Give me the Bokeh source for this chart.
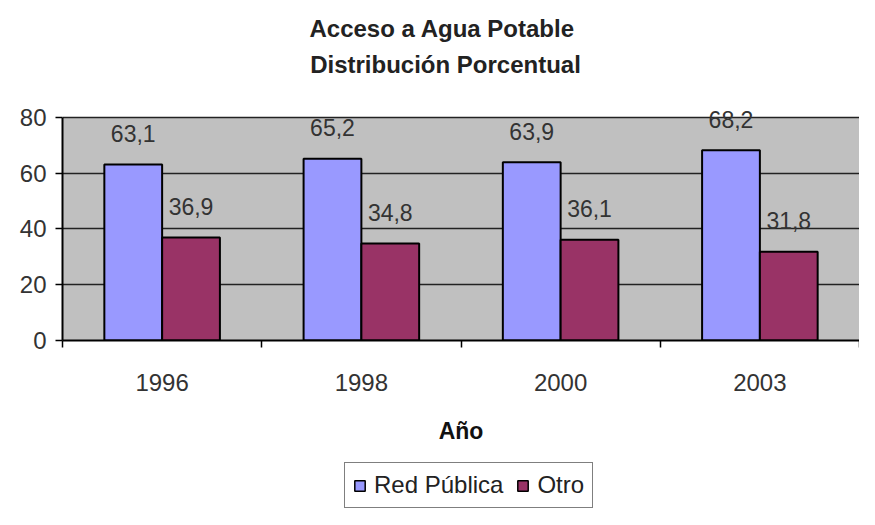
import numpy as np
from bokeh.plotting import figure
from bokeh.layouts import column
from bokeh.models import (Range1d, FixedTicker, Legend, LegendItem, Label,
                          BoxAnnotation, ColumnDataSource)
from bokeh.core.properties import value
from bokeh.embed import file_html
from bokeh.resources import INLINE

years = ["1996", "1998", "2000", "2003"]
red_publica = [63.1, 65.2, 63.9, 68.2]
otro = [36.9, 34.8, 36.1, 31.8]
y_ticks = [0, 20, 40, 60, 80]
series_names = ["Red Pública", "Otro"]
title_lines = ["Acceso  a Agua Potable", "Distribución Porcentual"]
x_title = "Año"

FONT = "Liberation Sans"
BLUE = "#9999FF"
MAROON = "#993366"
GRAY = "#C0C0C0"

pos = np.arange(len(years)) + 0.5
bar_w = 0.29
off = 0.145

src = ColumnDataSource(dict(
    x1=pos - off, x2=pos + off,
    red=red_publica, otro=otro,
    red_lbl=[f"{v:.1f}".replace(".", ",") for v in red_publica],
    otro_lbl=[f"{v:.1f}".replace(".", ",") for v in otro],
))

# ---------- title strip ----------
t = figure(width=859, height=88, output_backend="svg", toolbar_location=None,
           x_range=Range1d(0, 1), y_range=Range1d(0, 1), min_border=0,
           x_axis_type=None, y_axis_type=None)
t.grid.visible = False
t.outline_line_color = None
for txt, yy in zip(title_lines, [60, 24]):
    t.add_layout(Label(x=383, y=yy, x_units="screen", y_units="screen", text=txt,
                       text_align="center", text_baseline="middle",
                       text_font=FONT, text_font_size="24px",
                       text_font_style="bold", text_color="#222222"))

# ---------- main chart ----------
p = figure(width=859, height=371, output_backend="svg", toolbar_location=None,
           x_range=Range1d(0, len(years)), y_range=Range1d(0, 85),
           min_border_left=62, min_border_right=0, min_border_top=15,
           min_border_bottom=119)
p.background_fill_color = "white"
p.border_fill_color = "white"
p.outline_line_color = None

plot_bg = BoxAnnotation(bottom=0, top=max(y_ticks), fill_color=GRAY, fill_alpha=1,
                        line_color=None, level="image")
p.add_layout(plot_bg)

r1 = p.vbar(x="x1", top="red", width=bar_w, source=src, fill_color=BLUE,
            line_color="black", line_width=2)
r2 = p.vbar(x="x2", top="otro", width=bar_w, source=src, fill_color=MAROON,
            line_color="black", line_width=2)

p.text(x="x1", y="red", text="red_lbl", source=src, text_align="center",
       text_baseline="alphabetic", y_offset=-31, text_font=value(FONT),
       text_font_size="23px", text_color="#333333")
p.text(x="x2", y="otro", text="otro_lbl", source=src, text_align="center",
       text_baseline="alphabetic", y_offset=-31, text_font=value(FONT),
       text_font_size="23px", text_color="#333333")

p.xgrid.grid_line_color = None
p.ygrid.ticker = FixedTicker(ticks=y_ticks)
p.ygrid.grid_line_color = "#222222"
p.ygrid.grid_line_width = 1.5

p.yaxis.ticker = FixedTicker(ticks=y_ticks)
p.yaxis.bounds = (min(y_ticks), max(y_ticks))
p.yaxis.axis_line_color = "black"
p.yaxis.axis_line_width = 2
p.yaxis.major_tick_out = 7
p.yaxis.major_tick_in = 0
p.yaxis.major_tick_line_width = 1.5
p.yaxis.minor_tick_line_color = None
p.yaxis.major_label_text_font = FONT
p.yaxis.major_label_text_font_size = "24px"
p.yaxis.major_label_text_color = "#333333"
p.yaxis.major_label_standoff = 9

p.xaxis.ticker = FixedTicker(ticks=list(pos), minor_ticks=list(range(len(years) + 1)))
p.xaxis.major_label_overrides = {float(x): y for x, y in zip(pos, years)}
p.xaxis.axis_line_color = "black"
p.xaxis.axis_line_width = 2
p.xaxis.major_tick_out = 0
p.xaxis.major_tick_in = 0
p.xaxis.minor_tick_out = 7
p.xaxis.minor_tick_in = 0
p.xaxis.minor_tick_line_width = 1.5
p.xaxis.minor_tick_line_color = "black"
p.xaxis.major_label_text_font = FONT
p.xaxis.major_label_text_font_size = "24px"
p.xaxis.major_label_text_color = "#333333"
p.xaxis.major_label_standoff = 26
p.xaxis.axis_label = x_title
p.xaxis.axis_label_text_font = FONT
p.xaxis.axis_label_text_font_size = "23px"
p.xaxis.axis_label_text_font_style = "bold"
p.xaxis.axis_label_text_color = "#111111"
p.xaxis.axis_label_standoff = 24

# ---------- legend strip ----------
q = figure(width=859, height=50, output_backend="svg", toolbar_location=None,
           x_range=Range1d(0, len(years)), y_range=Range1d(1000, 1001),
           min_border=0, x_axis_type=None, y_axis_type=None)
q.grid.visible = False
q.outline_line_color = None
q.background_fill_color = "white"
l1 = q.vbar(x="x1", top="red", width=bar_w, source=src, fill_color=BLUE,
            line_color="black", line_width=1.5)
l2 = q.vbar(x="x2", top="otro", width=bar_w, source=src, fill_color=MAROON,
            line_color="black", line_width=1.5)
# plain white strip background over the (off-range) swatch renderers
q.add_layout(BoxAnnotation(fill_color="white", fill_alpha=1, line_color=None,
                           level="guide"))

legend = Legend(items=[LegendItem(label=series_names[0], renderers=[l1]),
                       LegendItem(label=series_names[1], renderers=[l2])],
                orientation="horizontal", location=(282, 1))
legend.label_text_font = FONT
legend.label_text_font_size = "24px"
legend.label_text_color = "#222222"
legend.glyph_width = 13
legend.glyph_height = 13
legend.label_standoff = 8
legend.spacing = 13
legend.padding = 8
legend.margin = 0
legend.border_line_color = "black"
legend.border_line_width = 1
legend.background_fill_color = "white"
q.add_layout(legend)

layout = column(t, p, q, spacing=0)
open("out.html", "w").write(file_html(layout, INLINE))
